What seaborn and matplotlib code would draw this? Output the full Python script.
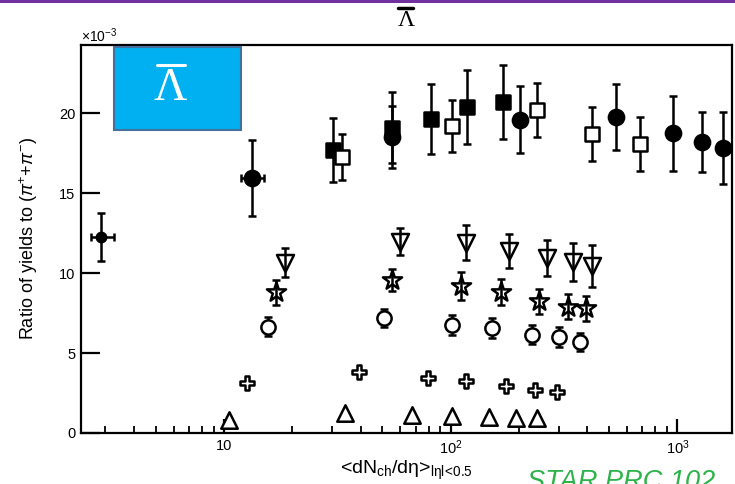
import numpy as np
import pandas as pd
import matplotlib
matplotlib.use("Agg")
import matplotlib.pyplot as plt
import seaborn as sns
from matplotlib.patches import Rectangle
from matplotlib.lines import Line2D
from matplotlib.ticker import FixedLocator, LogLocator, NullFormatter, NullLocator

# ---------------- data (ratio in units of 1e-3) ----------------
fsq_x = [30.3, 55.1, 81.6, 118, 170]
fsq_y = [17.7, 19.1, 19.64, 20.4, 20.7]
fsq_e = [2.0, 2.2, 2.2, 2.3, 2.3]

osq_x = [33.3, 101, 240, 418, 686]
osq_y = [17.25, 19.2, 20.2, 18.7, 18.06]
osq_e = [1.45, 1.65, 1.7, 1.7, 1.7]

fci_x = [13.3, 55.1, 203, 533, 960, 1284, 1588]
fci_y = [15.95, 18.5, 19.6, 19.75, 18.75, 18.2, 17.8]
fci_e = [2.4, 1.95, 2.1, 2.05, 2.35, 1.9, 2.25]
fci_xlo = [1.4, 0, 0, 0, 0, 0, 0]
fci_xhi = [1.7, 0, 0, 0, 0, 0, 0]

sm_x = [2.87]
sm_y = [12.27]
sm_e = [1.5]
sm_xlo = [0.28]
sm_xhi = [0.40]

dtr_x = [18.6, 59.6, 117, 180, 265, 346, 418]
dtr_y = [10.66, 11.97, 11.9, 11.4, 10.94, 10.7, 10.46]
dtr_e = [0.93, 0.85, 1.1, 1.07, 1.15, 1.2, 1.3]

star_x = [16.9, 55.0, 110.7, 166, 245, 330, 393]
star_y = [8.81, 9.58, 9.21, 8.81, 8.23, 7.9, 7.8]
star_e = [0.78, 0.7, 0.87, 0.83, 0.76, 0.8, 0.77]

oci_x = [15.7, 50.7, 101.4, 152.6, 228, 300, 370]
oci_y = [6.66, 7.19, 6.77, 6.56, 6.16, 5.98, 5.69]
oci_e = [0.62, 0.58, 0.62, 0.62, 0.6, 0.62, 0.57]

plus_x = [12.6, 39.3, 79.4, 116.4, 175, 235, 295]
plus_y = [3.12, 3.79, 3.44, 3.27, 2.91, 2.66, 2.58]

utr_x = [10.5, 34.2, 67.6, 101.4, 147.5, 195, 239]
utr_y = [0.83, 1.25, 1.14, 1.08, 1.0, 0.94, 0.94]

xtick_vals = [10, 100, 1000]
xtick_labels = ['10', r'$10^{2}$', r'$10^{3}$']
ytick_vals = [0, 5, 10, 15, 20]
ytick_labels = ['0', '5', '10', '15', '20']

title_text = 'Λ'
box_text = 'Λ'
ylabel_text = r'Ratio of yields to ($\pi^{+}$+$\pi^{-}$)'
xlabel_text = r'<dN$_{\mathrm{ch}}$/d$\mathrm{\eta}$>$_{\mathrm{l\eta l}\!<\!0.5}$'
ref_text = 'STAR PRC 102'

# ---------------- style ----------------
sns.set_theme(style='ticks')
plt.rcParams['font.family'] = ['Liberation Sans', 'DejaVu Sans']
plt.rcParams['mathtext.fontset'] = 'custom'
plt.rcParams['mathtext.rm'] = 'Liberation Sans'
plt.rcParams['mathtext.it'] = 'Liberation Sans:italic'
plt.rcParams['mathtext.bf'] = 'Liberation Sans:bold'
plt.rcParams['text.color'] = 'black'
plt.rcParams['axes.labelcolor'] = 'black'
plt.rcParams['xtick.color'] = 'black'
plt.rcParams['ytick.color'] = 'black'

W, H = 735, 484
fig = plt.figure(figsize=(W / 100, H / 100), dpi=100)
ax = fig.add_axes([81 / W, (H - 433) / H, (732 - 81) / W, (433 - 45) / H])

lw = 1.6
mlw = 1.8
ebkw = dict(fmt='none', ecolor='black', elinewidth=1.8, capsize=3, capthick=1.8)

def series(x, y, yerr, marker, s, face, xerr=None, bar_on_top=False):
    z = 4 if bar_on_top else 2
    if yerr is not None:
        ax.errorbar(x, y, yerr=yerr, xerr=xerr, zorder=z, **ebkw)
    df = pd.DataFrame({'x': x, 'y': y})
    sns.scatterplot(data=df, x='x', y='y', marker=marker, s=s, color=face,
                    edgecolor='black', linewidth=mlw, ax=ax, zorder=3, legend=False)

series(sm_x, sm_y, sm_e, 'o', 45, 'black', xerr=[sm_xlo, sm_xhi])
series(fci_x, fci_y, fci_e, 'o', 120, 'black', xerr=[fci_xlo, fci_xhi])
series(fsq_x, fsq_y, fsq_e, 's', 105, 'black')
series(osq_x, osq_y, osq_e, 's', 105, 'white')
series(dtr_x, dtr_y, dtr_e, 'v', 150, 'white', bar_on_top=True)
series(star_x, star_y, star_e, '*', 210, 'white', bar_on_top=True)
series(oci_x, oci_y, oci_e, 'o', 105, 'white')
series(plus_x, plus_y, None, 'P', 115, 'white')
series(utr_x, utr_y, None, '^', 140, 'white')

ax.set_xscale('log')
ax.set_xlim(2.34, 1740)
ax.set_ylim(0, 24.27)

ax.xaxis.set_major_locator(FixedLocator(xtick_vals))
ax.set_xticklabels(xtick_labels)
ax.xaxis.set_minor_locator(LogLocator(base=10, subs=np.arange(2, 10)))
ax.xaxis.set_minor_formatter(NullFormatter())
ax.set_yticks(ytick_vals)
ax.set_yticklabels(ytick_labels)
ax.yaxis.set_minor_locator(NullLocator())

ax.tick_params(axis='both', which='major', direction='in', width=lw, colors='black',
               labelsize=10.5, pad=4)
ax.tick_params(axis='x', which='major', length=10)
ax.tick_params(axis='y', which='major', length=14)
ax.tick_params(axis='x', which='minor', direction='in', width=1.3, length=5)
for sp in ax.spines.values():
    sp.set_visible(True)
    sp.set_linewidth(lw)
    sp.set_color('black')

ax.set_xlabel(xlabel_text, fontsize=14, labelpad=1)
ax.set_ylabel(ylabel_text, fontsize=13, labelpad=14)
ax.text(0.0, 1.0, r'$\times10^{-3}$', transform=ax.transAxes, fontsize=10,
        ha='left', va='bottom')

# purple band at top
fig.patches.append(Rectangle((0, 1 - 3 / H), 1, 3 / H, transform=fig.transFigure,
                             facecolor='#7030A0', edgecolor='none'))

# title Lambda-bar
fig.text(406 / W, 1 - 20 / H, title_text, family='Liberation Serif', fontsize=17,
         ha='center', va='center', color='black')
fig.lines.append(Line2D([398 / W, 413 / W], [1 - 8 / H, 1 - 8 / H], transform=fig.transFigure,
                        color='black', linewidth=2.5))

# blue box
fig.patches.append(Rectangle((114 / W, 1 - 130 / H), 127 / W, 83 / H, transform=fig.transFigure,
                             facecolor='#00B0F0', edgecolor='#41719C', linewidth=1.5, zorder=5))
fig.text(170 / W, 1 - 89 / H, box_text, family='Liberation Serif', fontsize=33,
         ha='center', va='center', color='white', zorder=6)
fig.lines.append(Line2D([157 / W, 185 / W], [1 - 65 / H, 1 - 65 / H], transform=fig.transFigure,
                        color='white', linewidth=2.2, zorder=6))

# reference text
fig.text(527 / W, 1 - 469 / H, ref_text, fontsize=19.5, style='italic', color='#2DB34A',
         ha='left', va='top')

fig.savefig('out.png', dpi=100)
